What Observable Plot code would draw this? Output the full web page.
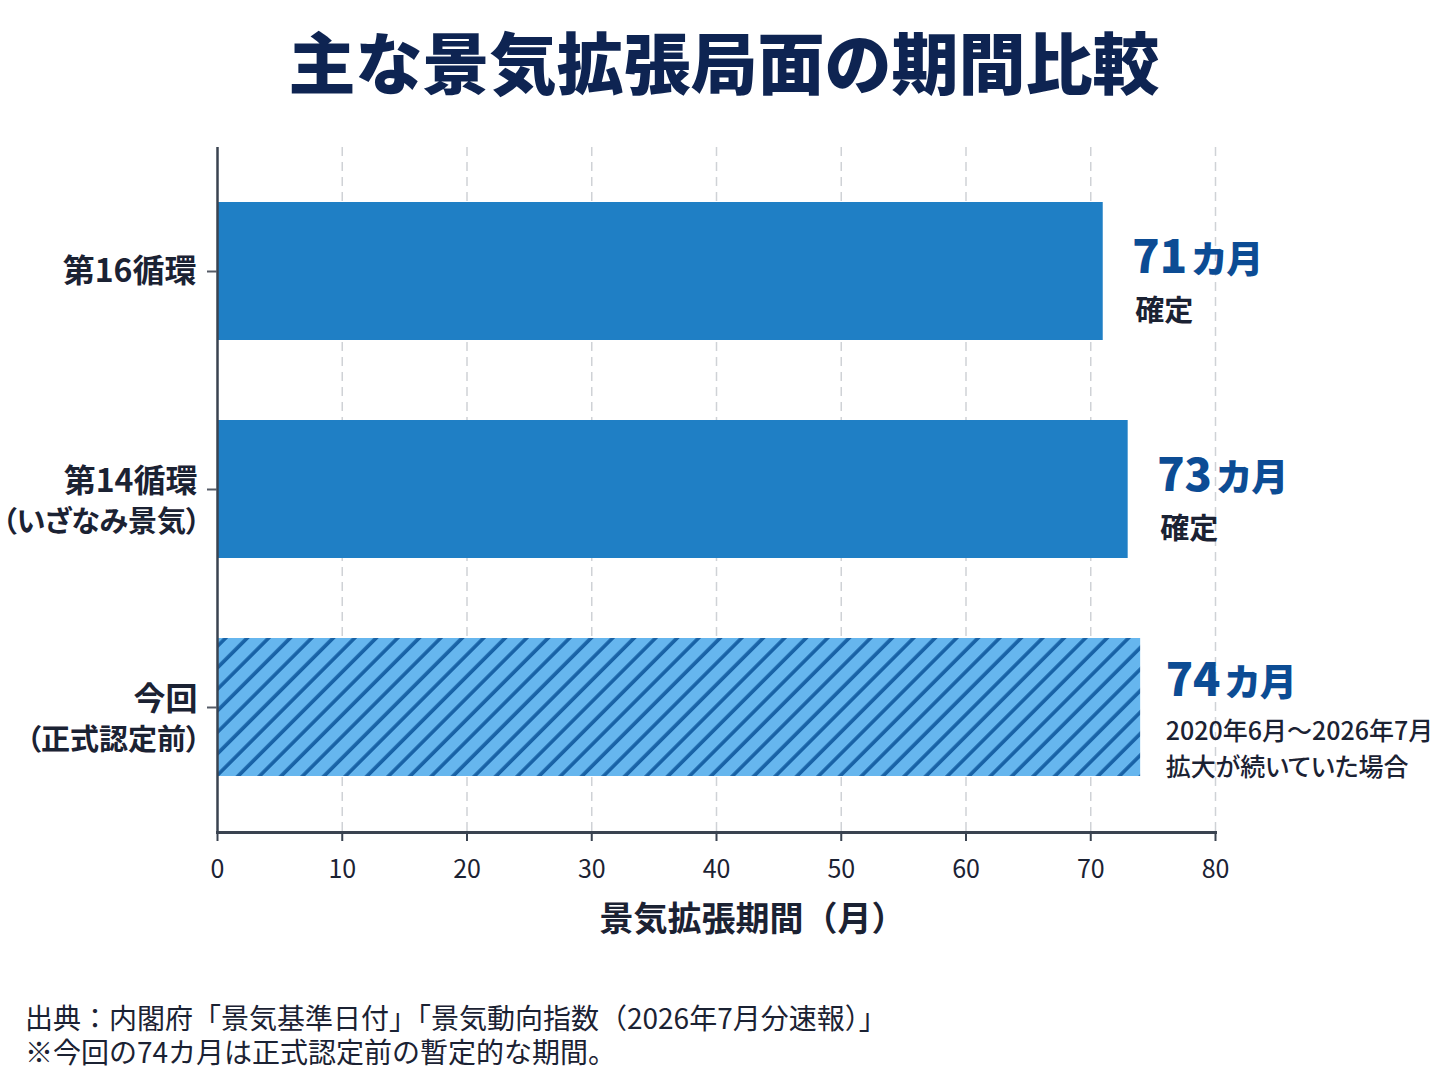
<!DOCTYPE html>
<html lang="ja">
<head>
<meta charset="utf-8">
<script src="https://cdn.jsdelivr.net/npm/d3@7"></script>
<script src="https://cdn.jsdelivr.net/npm/@observablehq/plot@0.6"></script>
<style>
  html, body { margin: 0; padding: 0; background: #ffffff; }
  body { width: 1448px; font-family: "Noto Sans CJK JP", "Noto Sans", sans-serif; color: #1b2233; }
  #title { height: 130px; line-height: 120px; text-align: center; font-size: 67px; font-weight: 900; color: #0e2452; }
  #chart { height: 820px; }
  #caption { padding: 50px 0 0 25px; font-size: 28px; line-height: 34px; color: #1b2233; }
  #caption div { height: 34px; white-space: nowrap; }
</style>
</head>
<body>
<div id="title">主な景気拡張局面の期間比較</div>
<div id="chart"></div>
<div id="caption"><div>出典：内閣府「景気基準日付」「景気動向指数（2026年7月分速報）」</div><div>※今回の74カ月は正式認定前の暫定的な期間。</div></div>
<script>
// ---- data ----
const categories = ["第16循環", "第14循環", "今回"];
const categoryNotes = ["", "（いざなみ景気）", "（正式認定前）"];
const months = [71, 73, 74];
const statuses = ["確定", "確定", "2020年6月～2026年7月\n拡大が続いていた場合"];
const provisional = [false, false, true];
const xTicks = [0, 10, 20, 30, 40, 50, 60, 70, 80];
const gridTicks = [10, 20, 30, 40, 50, 60, 70, 80];
const xLabel = "景気拡張期間（月）";
const unit = "カ月";

const rows = categories.map((c, i) => ({
  category: c,
  note: categoryNotes[i],
  months: months[i],
  status: statuses[i],
  provisional: provisional[i]
}));
const confirmed = rows.filter(d => !d.provisional);
const current = rows.filter(d => d.provisional);
const singleLine = rows.filter(d => !d.note);
const multiLine = rows.filter(d => d.note);

const dark = "#1b2233";
const valueColor = "#0c4c94";

const chart = Plot.plot({
  width: 1448,
  height: 820,
  marginTop: 17,
  marginBottom: 118,
  marginLeft: 217,
  marginRight: 233,
  style: {
    fontFamily: "'Noto Sans CJK JP', 'Noto Sans', sans-serif",
    background: "#ffffff",
    color: dark,
    overflow: "visible"
  },
  x: { domain: [0, 80], label: null },
  y: { domain: categories, paddingInner: 0.365, paddingOuter: 0.247, label: null },
  marks: [
    Plot.gridX(gridTicks, { stroke: "#cfd2d6", strokeOpacity: 1, strokeWidth: 1.5, strokeDasharray: "9,6" }),
    Plot.barX(confirmed, { x: "months", y: "category", fill: "#1f7fc5" }),
    Plot.barX(current, { x: "months", y: "category", fill: "url(#hatch)" }),
    Plot.ruleX([0], { stroke: "#3a4350", strokeWidth: 2.5 }),
    Plot.frame({ anchor: "bottom", stroke: "#3a4350", strokeWidth: 3 }),
    Plot.axisX(xTicks, {
      tickSize: 9, tickPadding: 19, fontSize: 25, stroke: "#3a4350", strokeWidth: 2,
      fill: dark, label: null, tickFormat: d => String(d)
    }),
    Plot.axisY({ tickSize: 10, tickFormat: () => "", stroke: "#555b66", strokeWidth: 2, label: null }),
    // category labels
    Plot.text(singleLine, {
      y: "category", frameAnchor: "left", textAnchor: "end", dx: -21,
      text: d => d.category, fontSize: 32, fontWeight: 700, fill: dark,
      lineAnchor: "middle"
    }),
    Plot.text(multiLine, {
      y: "category", frameAnchor: "left", textAnchor: "end", dx: -20, dy: -8,
      text: d => d.category, fontSize: 32, fontWeight: 700, fill: dark,
      lineAnchor: "middle"
    }),
    Plot.text(multiLine, {
      y: "category", frameAnchor: "left", textAnchor: "end", dx: -17, dy: 33,
      text: d => d.note, fontSize: 29, fontWeight: 700, fill: dark,
      lineAnchor: "middle"
    }),
    // value labels
    Plot.text(confirmed, {
      x: "months", y: "category", dx: 29, dy: -13, textAnchor: "start",
      text: d => d.months + unit, fontSize: 44, fontWeight: 800, fill: valueColor,
      lineAnchor: "middle"
    }),
    Plot.text(current, {
      x: "months", y: "category", dx: 25, dy: -26, textAnchor: "start",
      text: d => d.months + unit, fontSize: 44, fontWeight: 800, fill: valueColor,
      lineAnchor: "middle"
    }),
    Plot.text(confirmed, {
      x: "months", y: "category", dx: 32, dy: 40, textAnchor: "start",
      text: "status", fontSize: 29, fontWeight: 700, fill: dark, lineAnchor: "middle"
    }),
    Plot.text(current, {
      x: "months", y: "category", dx: 25, dy: 39, textAnchor: "start",
      text: "status", fontSize: 25, fontWeight: 500, fill: dark, lineAnchor: "middle",
      lineHeight: 1.44
    }),
    // x axis title
    Plot.text([xLabel], {
      frameAnchor: "bottom", dy: 88, dx: 36, text: d => d, fontSize: 34, fontWeight: 600,
      fill: dark, lineAnchor: "middle"
    })
  ]
});

// hatch pattern for the provisional bar
const ns = "http://www.w3.org/2000/svg";
const defs = document.createElementNS(ns, "defs");
defs.innerHTML = `
  <pattern id="hatch" patternUnits="userSpaceOnUse" width="15.2" height="15.2" patternTransform="rotate(45)">
    <rect width="15.2" height="15.2" fill="#66b6ee"></rect>
    <line x1="2" y1="-1" x2="2" y2="16.2" stroke="#1862a6" stroke-width="3.6"></line>
  </pattern>`;
chart.insertBefore(defs, chart.firstChild);

// proportional CJK metrics for in-chart labels (but not the axis title)
chart.style.fontFeatureSettings = '"palt"';
chart.querySelectorAll("text").forEach(t => {
  if (t.textContent === xLabel) t.style.fontFeatureSettings = "normal";
});

// split "NNカ月" into a large number and smaller unit
const re = new RegExp("^(\\d+)(" + unit + ")$");
chart.querySelectorAll("text").forEach(t => {
  const m = t.textContent.match(re);
  if (!m) return;
  t.textContent = "";
  const a = document.createElementNS(ns, "tspan");
  a.textContent = m[1];
  a.setAttribute("font-size", "45");
  const b = document.createElementNS(ns, "tspan");
  b.textContent = m[2];
  b.setAttribute("font-size", "37");
  b.setAttribute("dx", "5");
  t.appendChild(a);
  t.appendChild(b);
});

document.getElementById("chart").appendChild(chart);
</script>
</body>
</html>
